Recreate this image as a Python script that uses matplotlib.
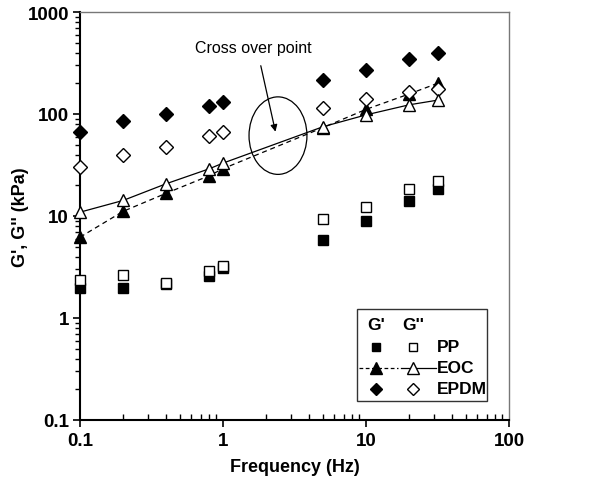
import matplotlib
matplotlib.use("Agg")
import matplotlib.pyplot as plt
from matplotlib.patches import Ellipse
from matplotlib.lines import Line2D
from matplotlib.ticker import LogLocator, NullFormatter

plt.rcParams['font.family'] = ['Liberation Sans', 'DejaVu Sans']

freq = [0.1, 0.2, 0.4, 0.8, 1.0, 5.0, 10.0, 20.0, 32.0]
pp_g1 = [1.95, 1.95, 2.15, 2.6, 3.1, 5.8, 9.0, 14.0, 18.3]
pp_g2 = [2.35, 2.65, 2.2, 2.9, 3.2, 9.3, 12.2, 18.5, 22.0]
eoc_g1 = [6.2, 11.1, 16.7, 24.8, 29.1, 73.5, 111, 157, 201]
eoc_g2 = [10.9, 14.2, 20.7, 29.0, 33.0, 75.0, 98, 123, 137]
epdm_g1 = [66, 85, 101, 121, 130, 217, 272, 346, 397]
epdm_g2 = [30, 40, 48, 61, 67, 114, 141, 166, 175]

fig = plt.figure(figsize=(6.13, 4.89), dpi=100)
ax = fig.add_axes([80/613, 1-421/489, 429/613, 408/489])

ax.plot(freq, pp_g1, 's', color='black', ms=6.5, mec='black', clip_on=False, zorder=3)
ax.plot(freq, pp_g2, 's', mfc='white', mec='black', ms=6.5, mew=1.0, clip_on=False, zorder=3)
ax.plot(freq, eoc_g1, '^--', color='black', ms=8, lw=0.9, dashes=(4, 3), clip_on=False, zorder=3)
ax.plot(freq, eoc_g2, '^-', color='black', mfc='white', mec='black', ms=9, mew=1.0, lw=0.9, clip_on=False, zorder=4)
ax.plot(freq, epdm_g1, 'D', color='black', ms=7, clip_on=False, zorder=3)
ax.plot(freq, epdm_g2, 'D', mfc='white', mec='black', ms=7, mew=1.0, clip_on=False, zorder=3)

ax.set_xscale('log')
ax.set_yscale('log')
ax.set_xlim(0.1, 100)
ax.set_ylim(0.1, 1000)

for s in ['top', 'right']:
    ax.spines[s].set_color('#777777')
    ax.spines[s].set_linewidth(1.0)
for s in ['left', 'bottom']:
    ax.spines[s].set_linewidth(1.5)

ax.set_xticks([0.1, 1, 10, 100])
ax.set_xticklabels(['0.1', '1', '10', '100'])
ax.set_yticks([0.1, 1, 10, 100, 1000])
ax.set_yticklabels(['0.1', '1', '10', '100', '1000'])
ax.xaxis.set_minor_locator(LogLocator(base=10, subs=range(2, 10)))
ax.yaxis.set_minor_locator(LogLocator(base=10, subs=range(2, 10)))
ax.xaxis.set_minor_formatter(NullFormatter())
ax.yaxis.set_minor_formatter(NullFormatter())

ax.tick_params(axis='x', which='major', direction='out', length=5, width=1.2, labelsize=13.5, pad=4)
ax.tick_params(axis='x', which='minor', direction='in', length=4, width=1.0)
ax.tick_params(axis='y', which='major', direction='out', length=5, width=1.2, labelsize=13.5, pad=3)
ax.tick_params(axis='y', which='minor', direction='out', length=3.5, width=1.0)
for lab in ax.get_xticklabels() + ax.get_yticklabels():
    lab.set_fontweight('bold')

ax.set_xlabel('Frequency (Hz)', fontsize=13, fontweight='bold', labelpad=6)
ax.set_ylabel("G', G'' (kPa)", fontsize=13, fontweight='bold')
ax.yaxis.set_label_coords(-(80-29)/429, 0.5)

# Cross over annotation
ell = Ellipse((0.4615, 0.697), 0.135, 0.19, transform=ax.transAxes,
              fill=False, edgecolor='black', lw=0.9)
ax.add_patch(ell)
ax.annotate('', xy=(0.457, 0.70), xytext=(0.42, 0.875), xycoords='axes fraction',
            arrowprops=dict(arrowstyle='-|>', color='black', lw=0.9, mutation_scale=10))
ax.text(0.403, 0.914, 'Cross over point', transform=ax.transAxes, ha='center', va='center',
        fontsize=11.5)

# Custom legend
lx0, lx1 = (357-80)/429, (487-80)/429
ly0, ly1 = (421-402)/408, (421-310)/408
ax.add_patch(plt.Rectangle((lx0, ly0), lx1-lx0, ly1-ly0, transform=ax.transAxes,
                           fill=True, facecolor='white', edgecolor='#333333', lw=1.0, zorder=5))
c1 = (376-80)/429
c2 = (413-80)/429
ct = (437-80)/429
rows = [(421-326)/408, (421-348)/408, (421-369)/408, (421-390)/408]
ax.text(c1, rows[0], "G'", transform=ax.transAxes, ha='center', va='center', fontsize=12.5,
        fontweight='bold', zorder=6)
ax.text(c2, rows[0], "G''", transform=ax.transAxes, ha='center', va='center', fontsize=12.5,
        fontweight='bold', zorder=6)
labels = ['PP', 'EOC', 'EPDM']
for i, lab in enumerate(labels):
    ax.text(ct, rows[i+1], lab, transform=ax.transAxes, ha='left', va='center', fontsize=12.5,
            fontweight='bold', zorder=6)
ax.add_line(Line2D([c1], [rows[1]], marker='s', color='black', ms=6, transform=ax.transAxes, zorder=6))
ax.add_line(Line2D([c2], [rows[1]], marker='s', mfc='white', mec='black', ms=6, transform=ax.transAxes, zorder=6))
ax.add_line(Line2D([(359-80)/429, (398-80)/429], [rows[2], rows[2]], ls='--', dashes=(3, 2), color='black', lw=0.9,
                   transform=ax.transAxes, zorder=6))
ax.add_line(Line2D([c1], [rows[2]], marker='^', color='black', ms=8, transform=ax.transAxes, zorder=7))
ax.add_line(Line2D([(401-80)/429, (436-80)/429], [rows[2], rows[2]], ls='-', color='black', lw=0.9,
                   transform=ax.transAxes, zorder=6))
ax.add_line(Line2D([c2], [rows[2]], marker='^', mfc='white', mec='black', ms=8, transform=ax.transAxes, zorder=7))
ax.add_line(Line2D([c1], [rows[3]], marker='D', color='black', ms=6, transform=ax.transAxes, zorder=6))
ax.add_line(Line2D([c2], [rows[3]], marker='D', mfc='white', mec='black', ms=6, transform=ax.transAxes, zorder=6))

fig.savefig('out.png', dpi=100)
